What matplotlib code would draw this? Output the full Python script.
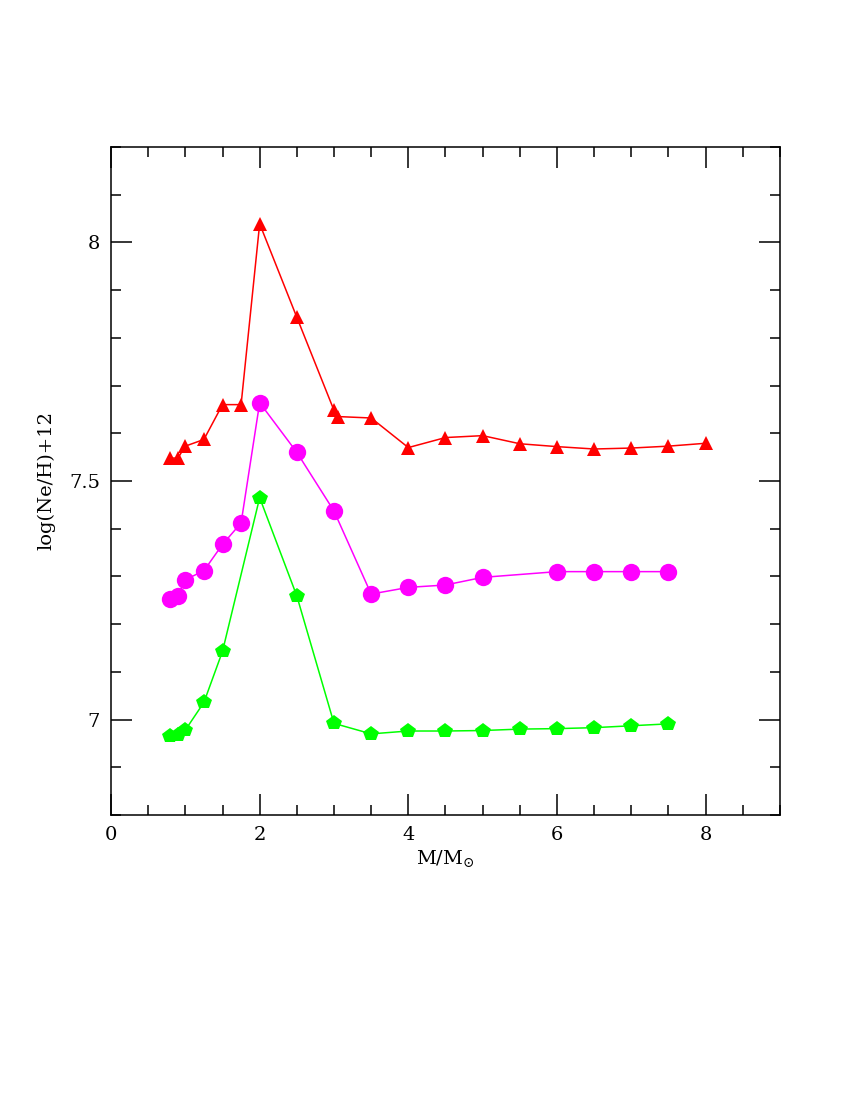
import numpy as np
import matplotlib
matplotlib.use('Agg')
import matplotlib.pyplot as plt
from matplotlib.ticker import MultipleLocator

plt.rcParams['font.family'] = 'DejaVu Serif'
plt.rcParams['mathtext.fontset'] = 'dejavuserif'

# red triangles
m_red = [0.8, 0.9, 1.0, 1.25, 1.5, 1.75, 2.0, 2.5, 3.0, 3.05, 3.5, 4.0, 4.5, 5.0, 5.5, 6.0, 6.5, 7.0, 7.5, 8.0]
ne_red = [7.548, 7.548, 7.573, 7.587, 7.660, 7.660, 8.039, 7.843, 7.648, 7.635, 7.632,
          7.570, 7.591, 7.595, 7.578, 7.572, 7.567, 7.569, 7.573, 7.579]

# magenta circles
m_mag = [0.8, 0.9, 1.0, 1.25, 1.5, 1.75, 2.0, 2.5, 3.0, 3.5, 4.0, 4.5, 5.0, 6.0, 6.5, 7.0, 7.5]
ne_mag = [7.252, 7.258, 7.293, 7.312, 7.367, 7.412, 7.664, 7.560, 7.437, 7.263,
          7.277, 7.282, 7.298, 7.310, 7.310, 7.310, 7.310]

# green pentagons
m_grn = [0.8, 0.9, 1.0, 1.25, 1.5, 2.0, 2.5, 3.0, 3.5, 4.0, 4.5, 5.0, 5.5, 6.0, 6.5, 7.0, 7.5]
ne_grn = [6.965, 6.967, 6.978, 7.036, 7.143, 7.465, 7.259, 6.992, 6.970, 6.976,
          6.976, 6.977, 6.980, 6.981, 6.983, 6.987, 6.991]

fig = plt.figure(figsize=(8.5, 11), dpi=100)
ax = fig.add_axes([0.1306, 0.2591, 0.787, 0.6073])

ax.plot(m_red, ne_red, color='#ff0000', linewidth=1.1, marker='^', markersize=10, markeredgewidth=0)
ax.plot(m_mag, ne_mag, color='#ff00ff', linewidth=1.1, marker='o', markersize=12.5, markeredgewidth=0)
ax.plot(m_grn, ne_grn, color='#00ff00', linewidth=1.1, marker='p', markersize=11.5, markeredgewidth=0)

ax.set_xlim(0, 9)
ax.set_ylim(6.8, 8.2)
ax.xaxis.set_major_locator(MultipleLocator(2))
ax.xaxis.set_minor_locator(MultipleLocator(0.5))
ax.yaxis.set_major_locator(MultipleLocator(0.5))
ax.yaxis.set_minor_locator(MultipleLocator(0.1))
ax.set_yticks([7, 7.5, 8])
ax.set_yticklabels(['7', '7.5', '8'])
ax.tick_params(which='both', direction='in', top=True, right=True, labelsize=14, width=1.1, pad=8)
ax.tick_params(which='major', length=15)
ax.tick_params(which='minor', length=7.5)
for s in ax.spines.values():
    s.set_linewidth(1.1)

ax.set_xlabel(r'M/M$_{\odot}$', fontsize=14, labelpad=3)
ax.set_ylabel('log(Ne/H)+12', fontsize=14, labelpad=10)

plt.savefig('out.png', dpi=100)
plt.close()
